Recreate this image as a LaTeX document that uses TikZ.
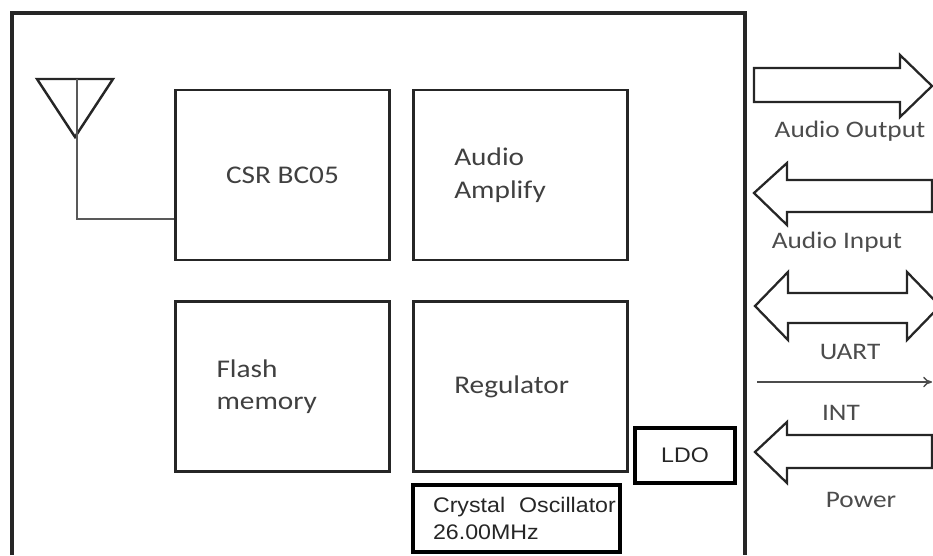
\documentclass[tikz,border=0pt]{standalone}
\usepackage{fontspec}
\setmainfont{Carlito}[FakeStretch=1.15]
\newfontfamily\arialfont{Liberation Sans}[FakeStretch=1.1]
\usetikzlibrary{positioning,arrows.meta}
\tikzset{block/.style={draw=black!85, line width=1.6pt, minimum width=4.28cm, minimum height=3.4cm, inner sep=0pt, text=black!75, font=\fontsize{14.5}{18.7}\selectfont},
 leftblock/.style={block, align=left, text width=2.64cm},
 thickbox/.style={draw=black, line width=2.7pt, inner sep=0pt, text=black!85, font=\arialfont\fontsize{12}{15.3}\selectfont},
 busarrow/.style={draw=black!85, line width=1.3pt, line join=miter},
 portlabel/.style={text=black!70, font=\fontsize{13.5}{16}\selectfont}}

\begin{document}
\begin{tikzpicture}[x=0.02cm, y=-0.02cm]
\useasboundingbox (0,0) rectangle (933,555);
% module outline
\draw[line width=1.8pt, black!85] (12,555) -- (12,13) -- (745,13) -- (745,555);

% blocks
\node[block] (csr) at (282.5,175) {CSR BC05};
\node[leftblock, right=0.42cm of csr] (amp) {Audio\\Amplify};
\node[leftblock, below=0.78cm of csr] (flash) {Flash\\memory};
\node[leftblock, below=0.78cm of amp] (reg) {Regulator};
\node[thickbox, minimum width=2cm, minimum height=1.1cm] (ldo) at (685,455.5) {LDO};
\node[thickbox, minimum width=4.14cm, minimum height=1.34cm, align=left, text width=3.34cm] (xtal) at (516.5,518.5) {\mbox{Crystal~~Oscillator}\\26.00MHz};

% antenna
\coordinate (ant) at (77,79);
\coordinate (antfoot) at (77,219);
\draw[line width=1.4pt, black!85, line join=miter] (37,79) -- (113,79) -- (75,137) -- cycle;
\draw[line width=0.9pt, black!65] (ant) -- (antfoot) -- (antfoot -| csr.west);

% interface arrows
\draw[busarrow] (754,68) -- (900,68) -- (900,55) -- (932,86) -- (900,117) -- (900,102) -- (754,102) -- cycle;
\draw[busarrow] (754,193) -- (787,163) -- (787,180) -- (932,180) -- (932,212) -- (787,212) -- (787,225) -- cycle;
\draw[busarrow] (755,306) -- (788,272) -- (788,293) -- (907,293) -- (907,272) -- (940,306) -- (907,340) -- (907,323) -- (788,323) -- (788,340) -- cycle;
\coordinate (intin) at (757,382);
\coordinate (intout) at (932,382);
\draw[-{To[length=5pt,width=6pt]}, line width=0.8pt, black!70] (intin) -- (intout);
\draw[busarrow] (755,452) -- (787,422) -- (787,435) -- (932,435) -- (932,468) -- (787,468) -- (787,483) -- cycle;

\node[portlabel] (aout) at (850,131) {Audio Output};
\node[portlabel] (ain) at (837,242) {Audio Input};
\node[portlabel] (uart) at (850,352) {UART};
\node[portlabel] (int) at (841,413) {INT};
\node[portlabel] (pwr) at (861,500) {Power};
\end{tikzpicture}
\end{document}
